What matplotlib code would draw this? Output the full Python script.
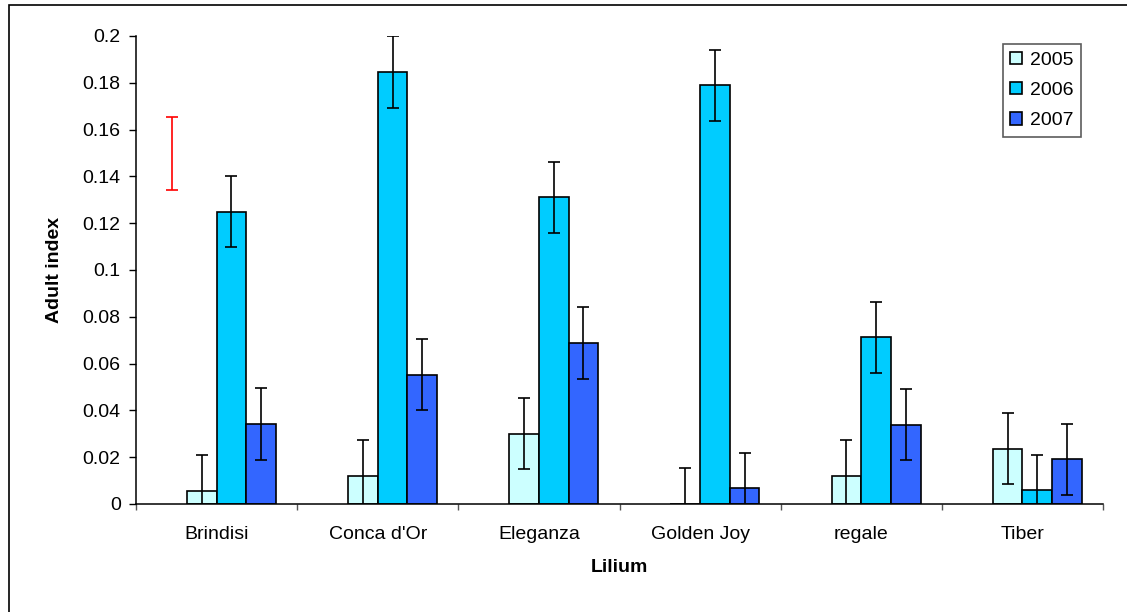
import numpy as np
import matplotlib.pyplot as plt
from matplotlib.patches import Rectangle

plt.rcParams['font.family'] = ['Liberation Sans', 'DejaVu Sans']

# Data
cultivars = ["Brindisi", "Conca d'Or", "Eleganza", "Golden Joy", "regale", "Tiber"]
years = ["2005", "2006", "2007"]
v2005 = [0.0057, 0.0121, 0.0300, 0.0, 0.0121, 0.0236]
v2006 = [0.125, 0.1846, 0.1311, 0.1789, 0.0712, 0.0058]
v2007 = [0.0342, 0.0553, 0.0688, 0.0068, 0.0338, 0.0191]
err2005 = [0.0152] * 6
err2006 = [0.0152] * 6
err2007 = [0.0152] * 6
# separate reference bar (drawn in red, first slot of Brindisi)
lsd_value = [0.1499]
lsd_err = [0.0156]

colors = ["#CCFFFF", "#00CCFF", "#3366FF"]

fig = plt.figure(figsize=(11.27, 6.12), dpi=100)
ax = fig.add_axes([136 / 1127, 1 - 504 / 612, 967 / 1127, 468 / 612])

x = np.arange(len(cultivars))
w = 0.184
offsets = [-0.5 * w, 0.5 * w, 1.5 * w]
series = [v2005, v2006, v2007]
errs = [err2005, err2006, err2007]

for vals, e, off, c, lab in zip(series, errs, offsets, colors, years):
    ax.bar(x + off, vals, width=w, color=c, edgecolor="black", linewidth=1.2,
           label=lab, zorder=2)
    ax.errorbar(x + off, vals, yerr=e, fmt="none", ecolor="black",
                elinewidth=1.2, capsize=4.3, capthick=1.2, zorder=3)

ax.errorbar([x[0] - 1.5 * w], lsd_value, yerr=lsd_err, fmt="none",
            ecolor="red", elinewidth=1.2, capsize=4.5, capthick=1.2, zorder=3)

ax.set_xlim(-0.5, len(cultivars) - 0.5)
ax.set_ylim(0, 0.2)
ax.set_yticks(np.arange(0, 0.201, 0.02))
ax.set_yticklabels(["0", "0.02", "0.04", "0.06", "0.08", "0.1", "0.12",
                    "0.14", "0.16", "0.18", "0.2"])
ax.set_xticks(x)
ax.set_xticklabels(cultivars)
ax.set_xticks(np.arange(-0.5, len(cultivars), 1), minor=True)

ax.tick_params(axis="y", direction="out", length=5, width=1, labelsize=14, pad=6)
ax.tick_params(axis="x", which="major", length=0, labelsize=14, pad=16)
ax.tick_params(axis="x", which="minor", direction="out", length=4.5, width=1,
               color="#555555")

for s in ["top", "right"]:
    ax.spines[s].set_visible(False)
for s in ["left", "bottom"]:
    ax.spines[s].set_linewidth(1.1)

ax.set_ylabel("Adult index", fontsize=14, fontweight="bold")
ax.yaxis.set_label_coords(-0.075, 0.5)
ax.set_xlabel("Lilium", fontsize=14, fontweight="bold")
ax.xaxis.set_label_coords(0.5, -0.118)

leg = fig.legend(loc="upper right", bbox_to_anchor=(1081 / 1127, 1 - 44 / 612),
                 fontsize=14, frameon=True, fancybox=False, handlelength=0.6,
                 handleheight=0.6, handletextpad=0.4, labelspacing=0.68,
                 borderpad=0.4, borderaxespad=0)
leg.get_frame().set_edgecolor("#333333")
leg.get_frame().set_linewidth(1.2)

# outer chart frame (left and top edges visible)
fig.add_artist(Rectangle((9 / 1127, -0.1), 1.2, 1.1 - 5 / 612,
                         transform=fig.transFigure, fill=False,
                         edgecolor="black", linewidth=1.2))

fig.savefig("out.png", dpi=100)
